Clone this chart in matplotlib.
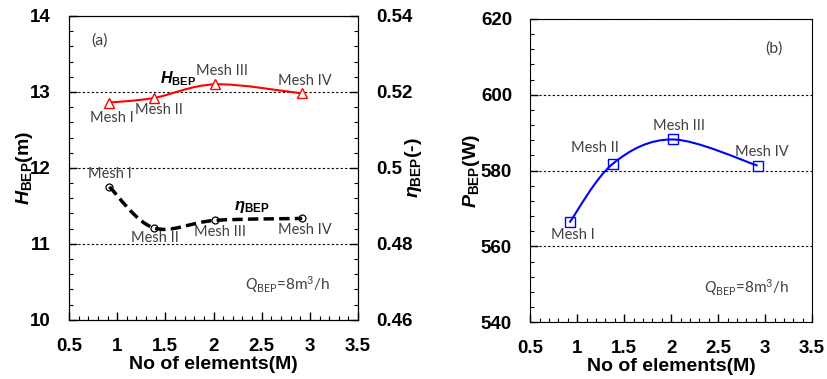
import numpy as np
import matplotlib
matplotlib.use("Agg")
import matplotlib.pyplot as plt
from matplotlib.path import Path
from matplotlib.patches import PathPatch
from matplotlib.ticker import MultipleLocator, FormatStrFormatter

plt.rcParams['font.family'] = ['Liberation Sans', 'DejaVu Sans']
plt.rcParams['mathtext.fontset'] = 'custom'
plt.rcParams['mathtext.it'] = 'Liberation Sans:italic:bold'
plt.rcParams['mathtext.bf'] = 'Liberation Sans:bold'
plt.rcParams['mathtext.sf'] = 'Lato:italic'
plt.rcParams['mathtext.rm'] = 'Lato'

# data
elements = [0.92, 1.38, 2.02, 2.92]          # number of elements (M)
mesh_names = ["Mesh I", "Mesh II", "Mesh III", "Mesh IV"]
head = [12.86, 12.92, 13.10, 12.98]           # H_BEP (m)
eff = [0.495, 0.4842, 0.4862, 0.4867]        # eta_BEP (-)
power = [566.3, 581.8, 588.2, 581.3]         # P_BEP (W)

TXT = '#404040'
ANN = dict(fontsize=10.5, color=TXT, family='Lato', ha='center', va='center')
TICK = 13.5


def smooth_path(x, y):
    # excel style smoothed line: cubic bezier through the points
    pts = np.column_stack([x, y])
    p = np.vstack([pts[0], pts, pts[-1]])
    verts = [pts[0]]
    codes = [Path.MOVETO]
    for i in range(len(pts) - 1):
        p0, p1, p2, p3 = p[i], p[i + 1], p[i + 2], p[i + 3]
        verts += [p1 + (p2 - p0) / 6, p2 - (p3 - p1) / 6, p2]
        codes += [Path.CURVE4] * 3
    return Path(verts, codes)


def smooth_line(ax, x, y, **kw):
    patch = PathPatch(smooth_path(x, y), fill=False, transform=ax.transData, **kw)
    ax.add_patch(patch)


def style_axes(ax):
    ax.set_xlim(0.5, 3.5)
    ax.xaxis.set_major_locator(MultipleLocator(0.5))
    ax.xaxis.set_minor_locator(MultipleLocator(0.1))
    ax.xaxis.set_major_formatter(FormatStrFormatter('%g'))
    ax.yaxis.set_major_formatter(FormatStrFormatter('%g'))
    ax.tick_params(axis='both', which='both', direction='in', top=False, right=False,
                   labelsize=TICK)
    ax.tick_params(which='major', length=6, width=1)
    ax.tick_params(which='minor', length=3, width=0.8)
    ax.tick_params(axis='x', which='major', pad=13)
    ax.tick_params(axis='y', which='major', pad=13)
    for lab in ax.get_xticklabels() + ax.get_yticklabels():
        lab.set_fontweight('bold')
    ax.yaxis.grid(True, color='black', linestyle=(0, (2, 2)), linewidth=0.8)
    ax.set_xlabel("No of elements(M)", fontsize=14, fontweight='bold')
    ax.xaxis.set_label_coords(0.5, -0.118)


fig = plt.figure(figsize=(8.27, 3.79), dpi=100)

# ---- (a) head and efficiency
ax1 = fig.add_axes([0.0834, 0.156, 0.3496, 0.802])
ax1.set_ylim(10, 14)
ax1.yaxis.set_major_locator(MultipleLocator(1))
ax1.yaxis.set_minor_locator(MultipleLocator(0.2))
style_axes(ax1)
ax1.set_ylabel(r"$H_{\mathbf{BEP}}$(m)", fontsize=14, fontweight='bold')
ax1.yaxis.set_label_coords(-0.118, 0.5)

smooth_line(ax1, elements, head, edgecolor='red', linewidth=1.5, zorder=3)
ax1.plot(elements, head, ls='none', marker='^', ms=7, mfc='white', mec='red',
         mew=1, zorder=4)

ax2 = ax1.twinx()
ax2.set_ylim(0.46, 0.54)
ax2.yaxis.set_major_locator(MultipleLocator(0.02))
ax2.yaxis.set_minor_locator(MultipleLocator(0.004))
ax2.yaxis.set_major_formatter(FormatStrFormatter('%g'))
ax2.tick_params(axis='y', which='both', direction='in', labelsize=TICK)
ax2.tick_params(which='major', length=6, width=1, pad=13)
ax2.tick_params(which='minor', length=3, width=0.8)
for lab in ax2.get_yticklabels():
    lab.set_fontweight('bold')
ax2.set_ylabel(r"$\eta_{\mathbf{BEP}}$(-)", fontsize=14, fontweight='bold')
ax2.yaxis.set_label_coords(1.156, 0.5)

smooth_line(ax2, elements, eff, edgecolor='black', linewidth=2.5,
            linestyle=(0, (3, 1.5)), zorder=3)
ax2.plot(elements, eff, ls='none', marker='o', ms=5, mfc='none', mec='black',
         mew=0.9, zorder=4)

ax1.text(0.82, 13.68, "(a)", **{**ANN, 'fontsize': 11.5})
ax1.text(1.63, 13.17, r"$H_{\mathbf{BEP}}$", fontsize=11.5, color='black', ha='center', va='center')
head_lbl = [(0.94, 12.66), (1.43, 12.76), (2.09, 13.28), (2.95, 13.14)]
for name, (tx, ty) in zip(mesh_names, head_lbl):
    ax1.text(tx, ty, name, **ANN)
eff_lbl = [(0.92, 11.92), (1.39, 11.08), (2.07, 11.16), (2.95, 11.18)]
for name, (tx, ty) in zip(mesh_names, eff_lbl):
    ax1.text(tx, ty, name, **ANN)
ax1.text(2.40, 11.49, r"$\eta_{\mathbf{BEP}}$", fontsize=12, color='black', ha='center', va='center')
ax1.text(2.77, 10.46, r"$\mathsf{Q}_{\mathrm{BEP}}$=8m$^{\mathrm{3}}$/h", **{**ANN, 'fontsize': 11})

# ---- (b) power
ax3 = fig.add_axes([0.641, 0.150, 0.341, 0.800])
ax3.set_ylim(540, 620)
ax3.yaxis.set_major_locator(MultipleLocator(20))
ax3.yaxis.set_minor_locator(MultipleLocator(4))
style_axes(ax3)
ax3.set_ylabel(r"$P_{\mathbf{BEP}}$(W)", fontsize=14, fontweight='bold')
ax3.yaxis.set_label_coords(-0.172, 0.5)

smooth_line(ax3, elements, power, edgecolor='blue', linewidth=1.5, zorder=3)
ax3.plot(elements, power, ls='none', marker='s', ms=6.5, mfc='none', mec='blue',
         mew=1, zorder=4)

ax3.text(3.09, 612.3, "(b)", **{**ANN, 'fontsize': 11.5})
pow_lbl = [(0.96, 563.0), (1.19, 586.0), (2.08, 591.8), (2.96, 585.0)]
for name, (tx, ty) in zip(mesh_names, pow_lbl):
    ax3.text(tx, ty, name, **ANN)
ax3.text(2.80, 549.2, r"$\mathsf{Q}_{\mathrm{BEP}}$=8m$^{\mathrm{3}}$/h", **{**ANN, 'fontsize': 11})

fig.savefig("out.png", dpi=100)
